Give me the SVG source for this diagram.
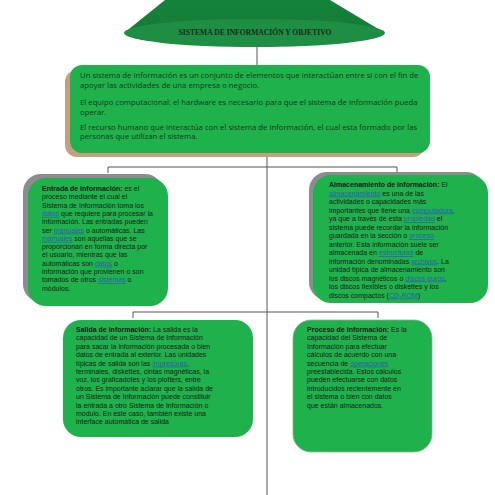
<svg xmlns="http://www.w3.org/2000/svg" width="495" height="495" viewBox="0 0 495 495">
<defs>
<style>
.t{font-family:"Liberation Sans",Arial,sans-serif;font-size:7px;fill:#1a1a1a}
.m{font-family:"Open Sans","Liberation Sans",sans-serif;font-size:7.75px;fill:#163a16}
.b{font-weight:bold}
.l{fill:#2a5fb0;text-decoration:underline}
.box{fill:#1fb14c}
.conn{stroke:#555;stroke-width:1;fill:none}
.title{font-family:"Liberation Serif",serif;font-weight:bold;font-size:7.6px;fill:#1a2a1a}
</style>
<linearGradient id="cone" x1="0" y1="0" x2="0" y2="1">
<stop offset="0" stop-color="#13843a"/>
<stop offset="1" stop-color="#177a38"/>
</linearGradient>
</defs>
<rect width="495" height="495" fill="#fff"/>

<g id="connectors">
<path class="conn" d="M257,46 V66"/>
<path class="conn" d="M267,152 V495"/>
<path class="conn" d="M108,173 V167 H397 V173"/>
<path class="conn" d="M133,318 V312 H378 V318"/>
</g>

<g id="title">
<path d="M165,0 H330 L385,33 L124,33 Z" fill="url(#cone)"/>
<ellipse cx="254.5" cy="33" rx="130.5" ry="14" fill="#1e8e44"/>
<text class="title" x="255" y="34.5" text-anchor="middle">SISTEMA DE INFORMACIÓN Y OBJETIVO</text>
</g>

<g id="main">
<rect x="65" y="70" width="360" height="87" rx="12" fill="#c4a080"/>
<rect x="70" y="65" width="360" height="88" rx="12" class="box"/>
<text class="m" x="80" y="78">Un sistema de información es un conjunto de elementos que interactúan entre si con el fin de</text>
<text class="m" x="80" y="87.5">apoyar las actividades de una empresa o negocio.</text>
<text class="m" x="80" y="105">El equipo computacional: el hardware es necesario para que el sistema de información pueda</text>
<text class="m" x="80" y="114.5">operar.</text>
<text class="m" x="80" y="129.5">El recurso humano que interactúa con el sistema de información, el cual esta formado por las</text>
<text class="m" x="80" y="139">personas que utilizan el sistema.</text>
</g>

<g id="entrada">
<rect x="23" y="174" width="140" height="128" rx="18" fill="#8c8c90"/>
<rect x="28" y="178" width="140" height="128" rx="18" class="box"/>
<text class="t" x="42" y="191"><tspan class="b">Entrada de información:</tspan> es el</text>
<text class="t" x="42" y="199.3">proceso mediante el cual el</text>
<text class="t" x="42" y="207.6">Sistema de Información toma los</text>
<text class="t" x="42" y="215.9"><tspan class="l">datos</tspan> que requiere para procesar la</text>
<text class="t" x="42" y="224.2">información. Las entradas pueden</text>
<text class="t" x="42" y="232.5">ser <tspan class="l">manuales</tspan> o automáticas. Las</text>
<text class="t" x="42" y="240.8"><tspan class="l">manuales</tspan> son aquellas que se</text>
<text class="t" x="42" y="249.1">proporcionan en forma directa por</text>
<text class="t" x="42" y="257.4">el usuario, mientras que las</text>
<text class="t" x="42" y="265.7">automáticas son <tspan class="l">datos</tspan> o</text>
<text class="t" x="42" y="274">información que provienen o son</text>
<text class="t" x="42" y="282.3">tomados de otros <tspan class="l">sistemas</tspan> o</text>
<text class="t" x="42" y="290.6">módulos.</text>
</g>

<g id="almacenamiento">
<rect x="309" y="172" width="175" height="128" rx="18" fill="#8c8c90"/>
<rect x="313" y="175" width="175" height="128" rx="18" class="box"/>
<text class="t" x="329" y="187"><tspan class="b">Almacenamiento de información:</tspan> El</text>
<text class="t" x="329" y="195.5"><tspan class="l">almacenamiento</tspan> es una de las</text>
<text class="t" x="329" y="204">actividades o capacidades más</text>
<text class="t" x="329" y="212.5">importantes que tiene una <tspan class="l">computadora</tspan>,</text>
<text class="t" x="329" y="221">ya que a través de esta <tspan class="l">propiedad</tspan> el</text>
<text class="t" x="329" y="229.5">sistema puede recordar la información</text>
<text class="t" x="329" y="238">guardada en la sección o <tspan class="l">proceso</tspan></text>
<text class="t" x="329" y="246.5">anterior. Esta información suele ser</text>
<text class="t" x="329" y="255">almacenada en <tspan class="l">estructuras</tspan> de</text>
<text class="t" x="329" y="263.5">información denominadas <tspan class="l">archivos</tspan>. La</text>
<text class="t" x="329" y="272">unidad típica de almacenamiento son</text>
<text class="t" x="329" y="280.5">los discos magnéticos o <tspan class="l">discos duros</tspan>,</text>
<text class="t" x="329" y="289">los discos flexibles o diskettes y los</text>
<text class="t" x="329" y="297.5">discos compactos (<tspan class="l">CD-ROM</tspan>)</text>
</g>

<g id="salida">
<rect x="63" y="320" width="190" height="117" rx="18" class="box"/>
<text class="t" x="76" y="332"><tspan class="b">Salida de información:</tspan> La salida es la</text>
<text class="t" x="76" y="340.4">capacidad de un Sistema de Información</text>
<text class="t" x="76" y="348.8">para sacar la información procesada o bien</text>
<text class="t" x="76" y="357.2">datos de entrada al exterior. Las unidades</text>
<text class="t" x="76" y="365.6">típicas de salida son las <tspan class="l">impresoras</tspan>,</text>
<text class="t" x="76" y="374">terminales, diskettes, cintas magnéticas, la</text>
<text class="t" x="76" y="382.4">voz, los graficadotes y los plotters, entre</text>
<text class="t" x="76" y="390.8">otros. Es importante aclarar que la salida de</text>
<text class="t" x="76" y="399.2">un Sistema de Información puede constituir</text>
<text class="t" x="76" y="407.6">la entrada a otro Sistema de Información o</text>
<text class="t" x="76" y="416">módulo. En este caso, también existe una</text>
<text class="t" x="76" y="424.4">interface automática de salida</text>
</g>

<g id="proceso">
<rect x="293" y="320" width="139" height="132" rx="18" class="box" stroke="#9aa89a" stroke-width="0.8"/>
<text class="t" x="307" y="332"><tspan class="b">Proceso de información:</tspan> Es la</text>
<text class="t" x="307" y="340.4">capacidad del Sistema de</text>
<text class="t" x="307" y="348.8">Información para efectuar</text>
<text class="t" x="307" y="357.2">cálculos de acuerdo con una</text>
<text class="t" x="307" y="365.6">secuencia de <tspan class="l">operaciones</tspan></text>
<text class="t" x="307" y="374">preestablecida. Estos cálculos</text>
<text class="t" x="307" y="382.4">pueden efectuarse con datos</text>
<text class="t" x="307" y="390.8">introducidos recientemente en</text>
<text class="t" x="307" y="399.2">el sistema o bien con datos</text>
<text class="t" x="307" y="407.6">que están almacenados.</text>
</g>
</svg>
